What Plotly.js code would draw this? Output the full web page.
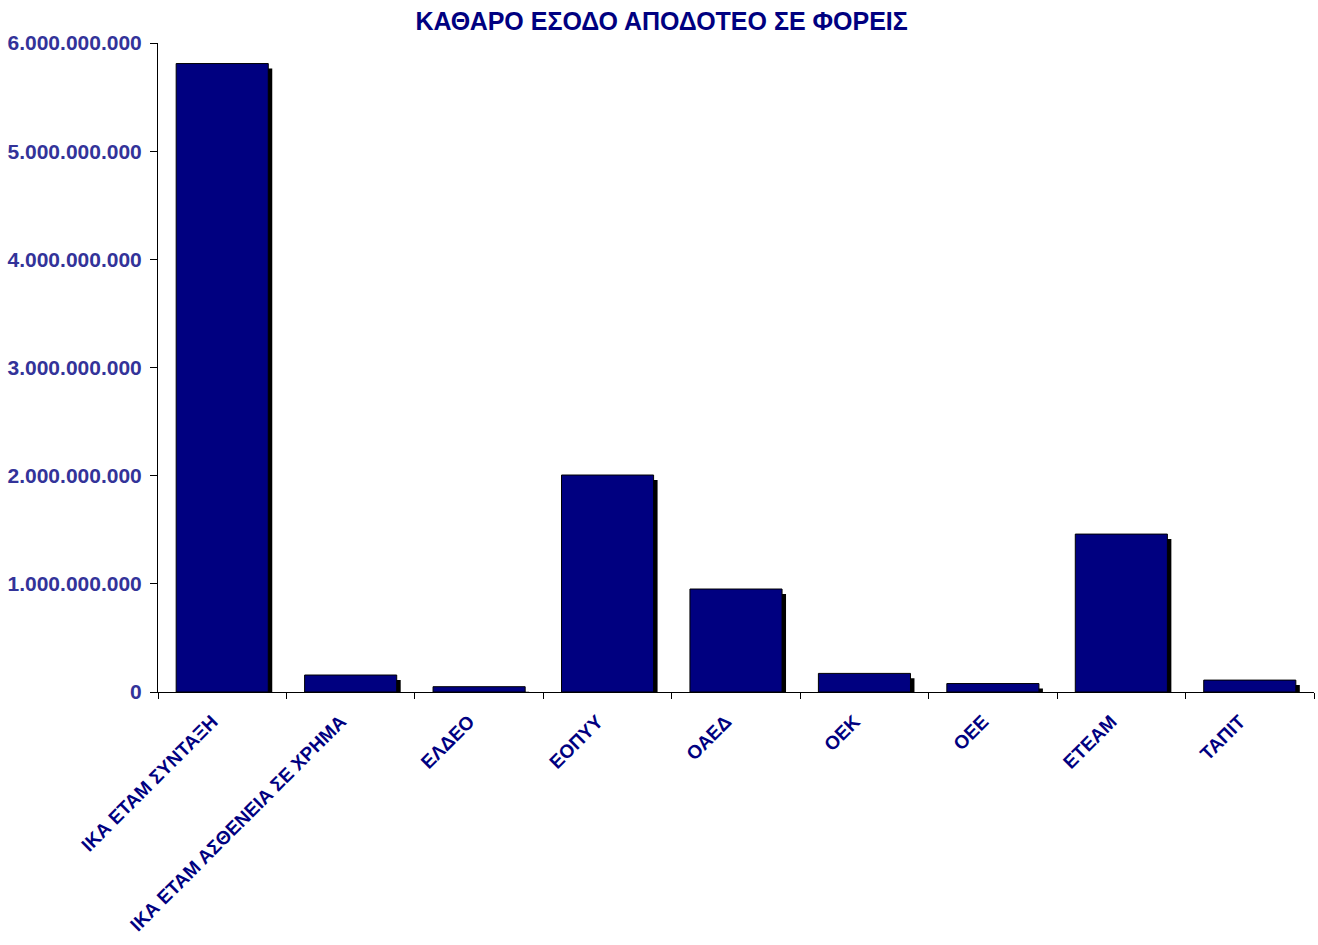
<!DOCTYPE html>
<html>
<head>
<meta charset="utf-8">
<script src="https://cdn.plot.ly/plotly-3.0.1.min.js"></script>
<style>html,body{margin:0;padding:0;background:#fff;}#chart{width:1318px;height:945px;}</style>
</head>
<body>
<div id="chart"></div>
<script>
const categories = [
  "ΙΚΑ ΕΤΑΜ ΣΥΝΤΑΞΗ",
  "ΙΚΑ ΕΤΑΜ ΑΣΘΕΝΕΙΑ ΣΕ ΧΡΗΜΑ",
  "ΕΛΔΕΟ",
  "ΕΟΠΥΥ",
  "ΟΑΕΔ",
  "ΟΕΚ",
  "ΟΕΕ",
  "ΕΤΕΑΜ",
  "ΤΑΠΙΤ"
];
const values = [5810000000, 157000000, 49000000, 2006000000, 952000000, 172000000, 78000000, 1460000000, 110000000];
const yTickValues = [0, 1000000000, 2000000000, 3000000000, 4000000000, 5000000000, 6000000000];

// style constants for the drop shadow
const shadowDrop = 46000000;   // data units (≈5px)
const shadowShift = 0.031;     // category units (≈4px)
const barWidth = 0.717;

const shadowValues = values.map(v => Math.max(v - shadowDrop, 0));

const font = "'Liberation Sans', Arial, sans-serif";

const traces = [
  {
    type: 'bar', x: categories, y: shadowValues,
    width: barWidth, offset: -barWidth / 2 + shadowShift,
    marker: {color: '#000000', line: {width: 0}},
    hoverinfo: 'skip', showlegend: false
  },
  {
    type: 'bar', x: categories, y: values,
    width: barWidth, offset: -barWidth / 2,
    marker: {color: '#000080', line: {color: '#000000', width: 1}},
    showlegend: false
  }
];

const layout = {
  width: 1318, height: 945,
  paper_bgcolor: '#ffffff', plot_bgcolor: '#ffffff',
  margin: {l: 158, r: 4, t: 43, b: 253},
  barmode: 'overlay',
  separators: ',.',
  showlegend: false,
  title: {
    text: '<b>ΚΑΘΑΡΟ ΕΣΟΔΟ ΑΠΟΔΟΤΕΟ ΣΕ ΦΟΡΕΙΣ</b>',
    font: {family: font, size: 25, color: '#000080'},
    x: 0.502, xanchor: 'center',
    y: 0.978, yanchor: 'middle', yref: 'container'
  },
  xaxis: {
    type: 'category',
    tickangle: -45,
    tickson: 'boundaries',
    ticks: 'outside', ticklen: 6, tickcolor: '#000000', tickwidth: 1,
    ticklabelstandoff: 10, ticklabelshift: -10,
    showline: true, linecolor: '#000000', linewidth: 1,
    showgrid: false, zeroline: false,
    tickfont: {family: font, size: 19, color: '#000080', weight: 'bold'},
    range: [-0.5, categories.length - 0.5]
  },
  yaxis: {
    range: [0, 6000000000],
    tickvals: yTickValues,
    tickformat: ',.0f',
    ticks: 'outside', ticklen: 7, tickcolor: '#000000', tickwidth: 1,
    ticklabelstandoff: 4,
    showline: true, linecolor: '#000000', linewidth: 1,
    showgrid: false, zeroline: false,
    tickfont: {family: font, size: 21, color: '#333399', weight: 'bold'}
  }
};

Plotly.newPlot('chart', traces, layout, {displayModeBar: false, staticPlot: true});
</script>
</body>
</html>
